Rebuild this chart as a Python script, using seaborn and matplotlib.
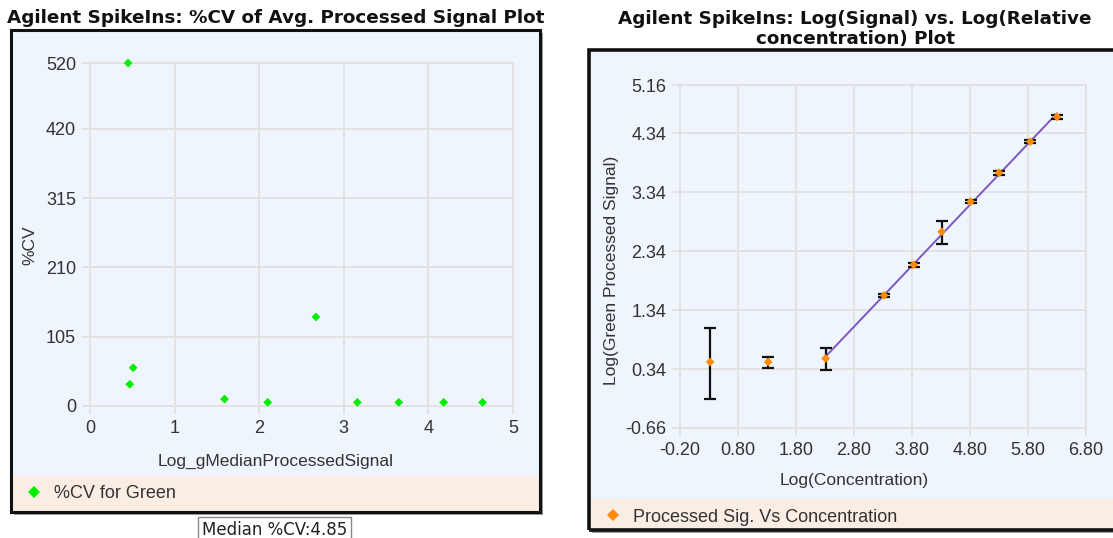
import numpy as np
import pandas as pd
import matplotlib
matplotlib.use("Agg")
import matplotlib.pyplot as plt
from matplotlib.patches import Rectangle
from matplotlib.lines import Line2D
import seaborn as sns

# %CV of average processed signal per spike-in
cv_log_signal = [0.45, 0.47, 0.51, 1.59, 2.10, 2.67, 3.16, 3.65, 4.18, 4.64]
cv_percent = [520, 33, 58, 10.5, 5.5, 135, 5.5, 5.5, 5.5, 5.5]
cv_yticks = [0, 105, 210, 315, 420, 520]
cv_xticks = [0, 1, 2, 3, 4, 5]
median_cv_text = "Median %CV:4.85"

# Log signal vs log relative concentration
log_conc = [0.32, 1.32, 2.31, 3.32, 3.83, 4.31, 4.81, 5.30, 5.84, 6.30]
log_signal = [0.46, 0.46, 0.52, 1.59, 2.11, 2.67, 3.18, 3.67, 4.20, 4.62]
err_low = [0.63, 0.10, 0.20, 0.03, 0.03, 0.21, 0.03, 0.03, 0.03, 0.03]
err_high = [0.57, 0.09, 0.18, 0.03, 0.03, 0.19, 0.03, 0.03, 0.03, 0.03]
fit_start = 2  # linear fit uses the spike-ins from this index on
conc_xticks = [-0.20, 0.80, 1.80, 2.80, 3.80, 4.80, 5.80, 6.80]
conc_yticks = [-0.66, 0.34, 1.34, 2.34, 3.34, 4.34, 5.16]

sns.set_theme(style="whitegrid")
plt.rcParams["font.family"] = ["Liberation Sans", "DejaVu Sans"]

W, H = 1113, 538
fig = plt.figure(figsize=(W / 100, H / 100), dpi=100)

PANEL_BG = "#EEF5FD"
LEGEND_BG = "#FAEEE4"
GRID = "#E2E2E2"
TEXT = "#333333"


def fbox(x0, y0, x1, y1):
    """Pixel box (top-left origin) -> figure fraction rect."""
    return (x0 / W, 1 - y1 / H, (x1 - x0) / W, (y1 - y0) / H)


def panel(x0, y0, x1, y1, band_top, edge_lw=2.2):
    l, b, w, h = fbox(x0 + 3, y0 + 3, x1 + 3, y1 + 3)
    fig.add_artist(Rectangle((l, b), w, h, transform=fig.transFigure,
                             facecolor="#9a9a9a", edgecolor="none", zorder=-3))
    l, b, w, h = fbox(x0, y0, x1, y1)
    fig.add_artist(Rectangle((l, b), w, h, transform=fig.transFigure,
                             facecolor=PANEL_BG, edgecolor="none", zorder=-2.5))
    l, b, w, h = fbox(x0, band_top, x1, y1)
    fig.add_artist(Rectangle((l, b), w, h, transform=fig.transFigure,
                             facecolor=LEGEND_BG, edgecolor="none", zorder=-2))
    l, b, w, h = fbox(x0, y0, x1, y1)
    fig.add_artist(Rectangle((l, b), w, h, transform=fig.transFigure,
                             facecolor="none", edgecolor="#111111",
                             linewidth=edge_lw, zorder=-1.5))


panel(11, 30, 540, 512, 476)
panel(589, 50, 1125, 530, 499, edge_lw=2.6)


def style_axes(ax):
    ax.set_zorder(2)
    ax.set_facecolor(PANEL_BG)
    ax.grid(True, color=GRID, linewidth=1.4)
    for s in ax.spines.values():
        s.set_color(GRID)
        s.set_linewidth(1.4)
    ax.tick_params(axis="both", which="major", length=6, width=1.4,
                   color=GRID, labelsize=13, labelcolor=TEXT, pad=4,
                   left=True, bottom=True)
    ax.set_axisbelow(True)


# ---- left: %CV plot ----
ax1 = fig.add_axes(fbox(90, 63, 513, 406))
style_axes(ax1)
cv_df = pd.DataFrame({"x": cv_log_signal, "cv": cv_percent})
sns.scatterplot(data=cv_df, x="x", y="cv", ax=ax1, marker="D", s=20,
                color="#00EE00", edgecolor="none", clip_on=False, zorder=5)
ax1.set_xlim(0, 5)
ax1.set_ylim(0, 520)
ax1.set_xticks(cv_xticks)
ax1.set_yticks(cv_yticks)
ax1.set_xticklabels([str(t) for t in cv_xticks])
ax1.set_yticklabels([str(t) for t in cv_yticks])
ax1.set_xlabel("Log_gMedianProcessedSignal", fontsize=12.5, color=TEXT)
ax1.set_ylabel("%CV", fontsize=12.5, color=TEXT)
ax1.xaxis.set_label_coords(0.44, -0.14)
ax1.yaxis.set_label_coords(-0.125, 0.47)

fig.text(276 / W, 1 - 18 / H, "Agilent SpikeIns: %CV of Avg. Processed Signal Plot",
         ha="center", va="center", fontsize=13.2, fontweight="bold",
         family="DejaVu Sans", color="#111111")

fig.legend(handles=[Line2D([], [], marker="D", linestyle="none", markersize=6,
                           color="#00EE00", markeredgewidth=0)],
           labels=["%CV for Green"], loc="center left",
           bbox_to_anchor=(9 / W, 1 - 494 / H), bbox_transform=fig.transFigure,
           frameon=False, fontsize=13, handlelength=1.0, handletextpad=0.6,
           labelcolor=TEXT)

fig.text(202 / W, 1 - 530 / H, median_cv_text, ha="left", va="center",
         fontsize=12, family="DejaVu Sans", color="#222222",
         bbox=dict(boxstyle="square,pad=0.25", facecolor="white",
                   edgecolor="#888888", linewidth=1))

# ---- right: log signal vs log concentration ----
ax2 = fig.add_axes(fbox(680, 85, 1086, 428))
style_axes(ax2)
conc_df = pd.DataFrame({"conc": log_conc, "signal": log_signal})

fit = conc_df.iloc[fit_start:]
slope, intercept = np.polyfit(fit["conc"], fit["signal"], 1)
fit_x = np.array([fit["conc"].min(), fit["conc"].max()])
sns.lineplot(x=fit_x, y=slope * fit_x + intercept, ax=ax2, color="#7E57C2",
             linewidth=1.4, zorder=3)

ax2.errorbar(log_conc, log_signal, yerr=[err_low, err_high], fmt="none",
             ecolor="#111111", elinewidth=1.6, capsize=4, capthick=1.6,
             zorder=4)
sns.scatterplot(data=conc_df, x="conc", y="signal", ax=ax2, marker="D", s=20,
                color="#FF8C00", edgecolor="none", zorder=5)

ax2.set_xlim(-0.2, 6.8)
ax2.set_ylim(-0.66, 5.16)
ax2.set_xticks(conc_xticks)
ax2.set_yticks(conc_yticks)
ax2.set_xticklabels([f"{t:.2f}" for t in conc_xticks])
ax2.set_yticklabels([f"{t:.2f}" for t in conc_yticks])
ax2.set_xlabel("Log(Concentration)", fontsize=12.5, color=TEXT)
ax2.set_ylabel("Log(Green Processed Signal)", fontsize=12.5, color=TEXT)
ax2.xaxis.set_label_coords(0.43, -0.13)
ax2.yaxis.set_label_coords(-0.15, 0.46)

fig.text(855 / W, 1 - 29 / H,
         "Agilent SpikeIns: Log(Signal) vs. Log(Relative\nconcentration) Plot",
         ha="center", va="center", fontsize=13.2, fontweight="bold",
         family="DejaVu Sans", color="#111111", linespacing=1.2)

fig.legend(handles=[Line2D([], [], marker="D", linestyle="none", markersize=6,
                           color="#FF8C00", markeredgewidth=0)],
           labels=["Processed Sig. Vs Concentration"], loc="center left",
           bbox_to_anchor=(588 / W, 1 - 517 / H), bbox_transform=fig.transFigure,
           frameon=False, fontsize=13, handlelength=1.0, handletextpad=0.6,
           labelcolor=TEXT)

fig.savefig("out.png", dpi=100, facecolor="white")
